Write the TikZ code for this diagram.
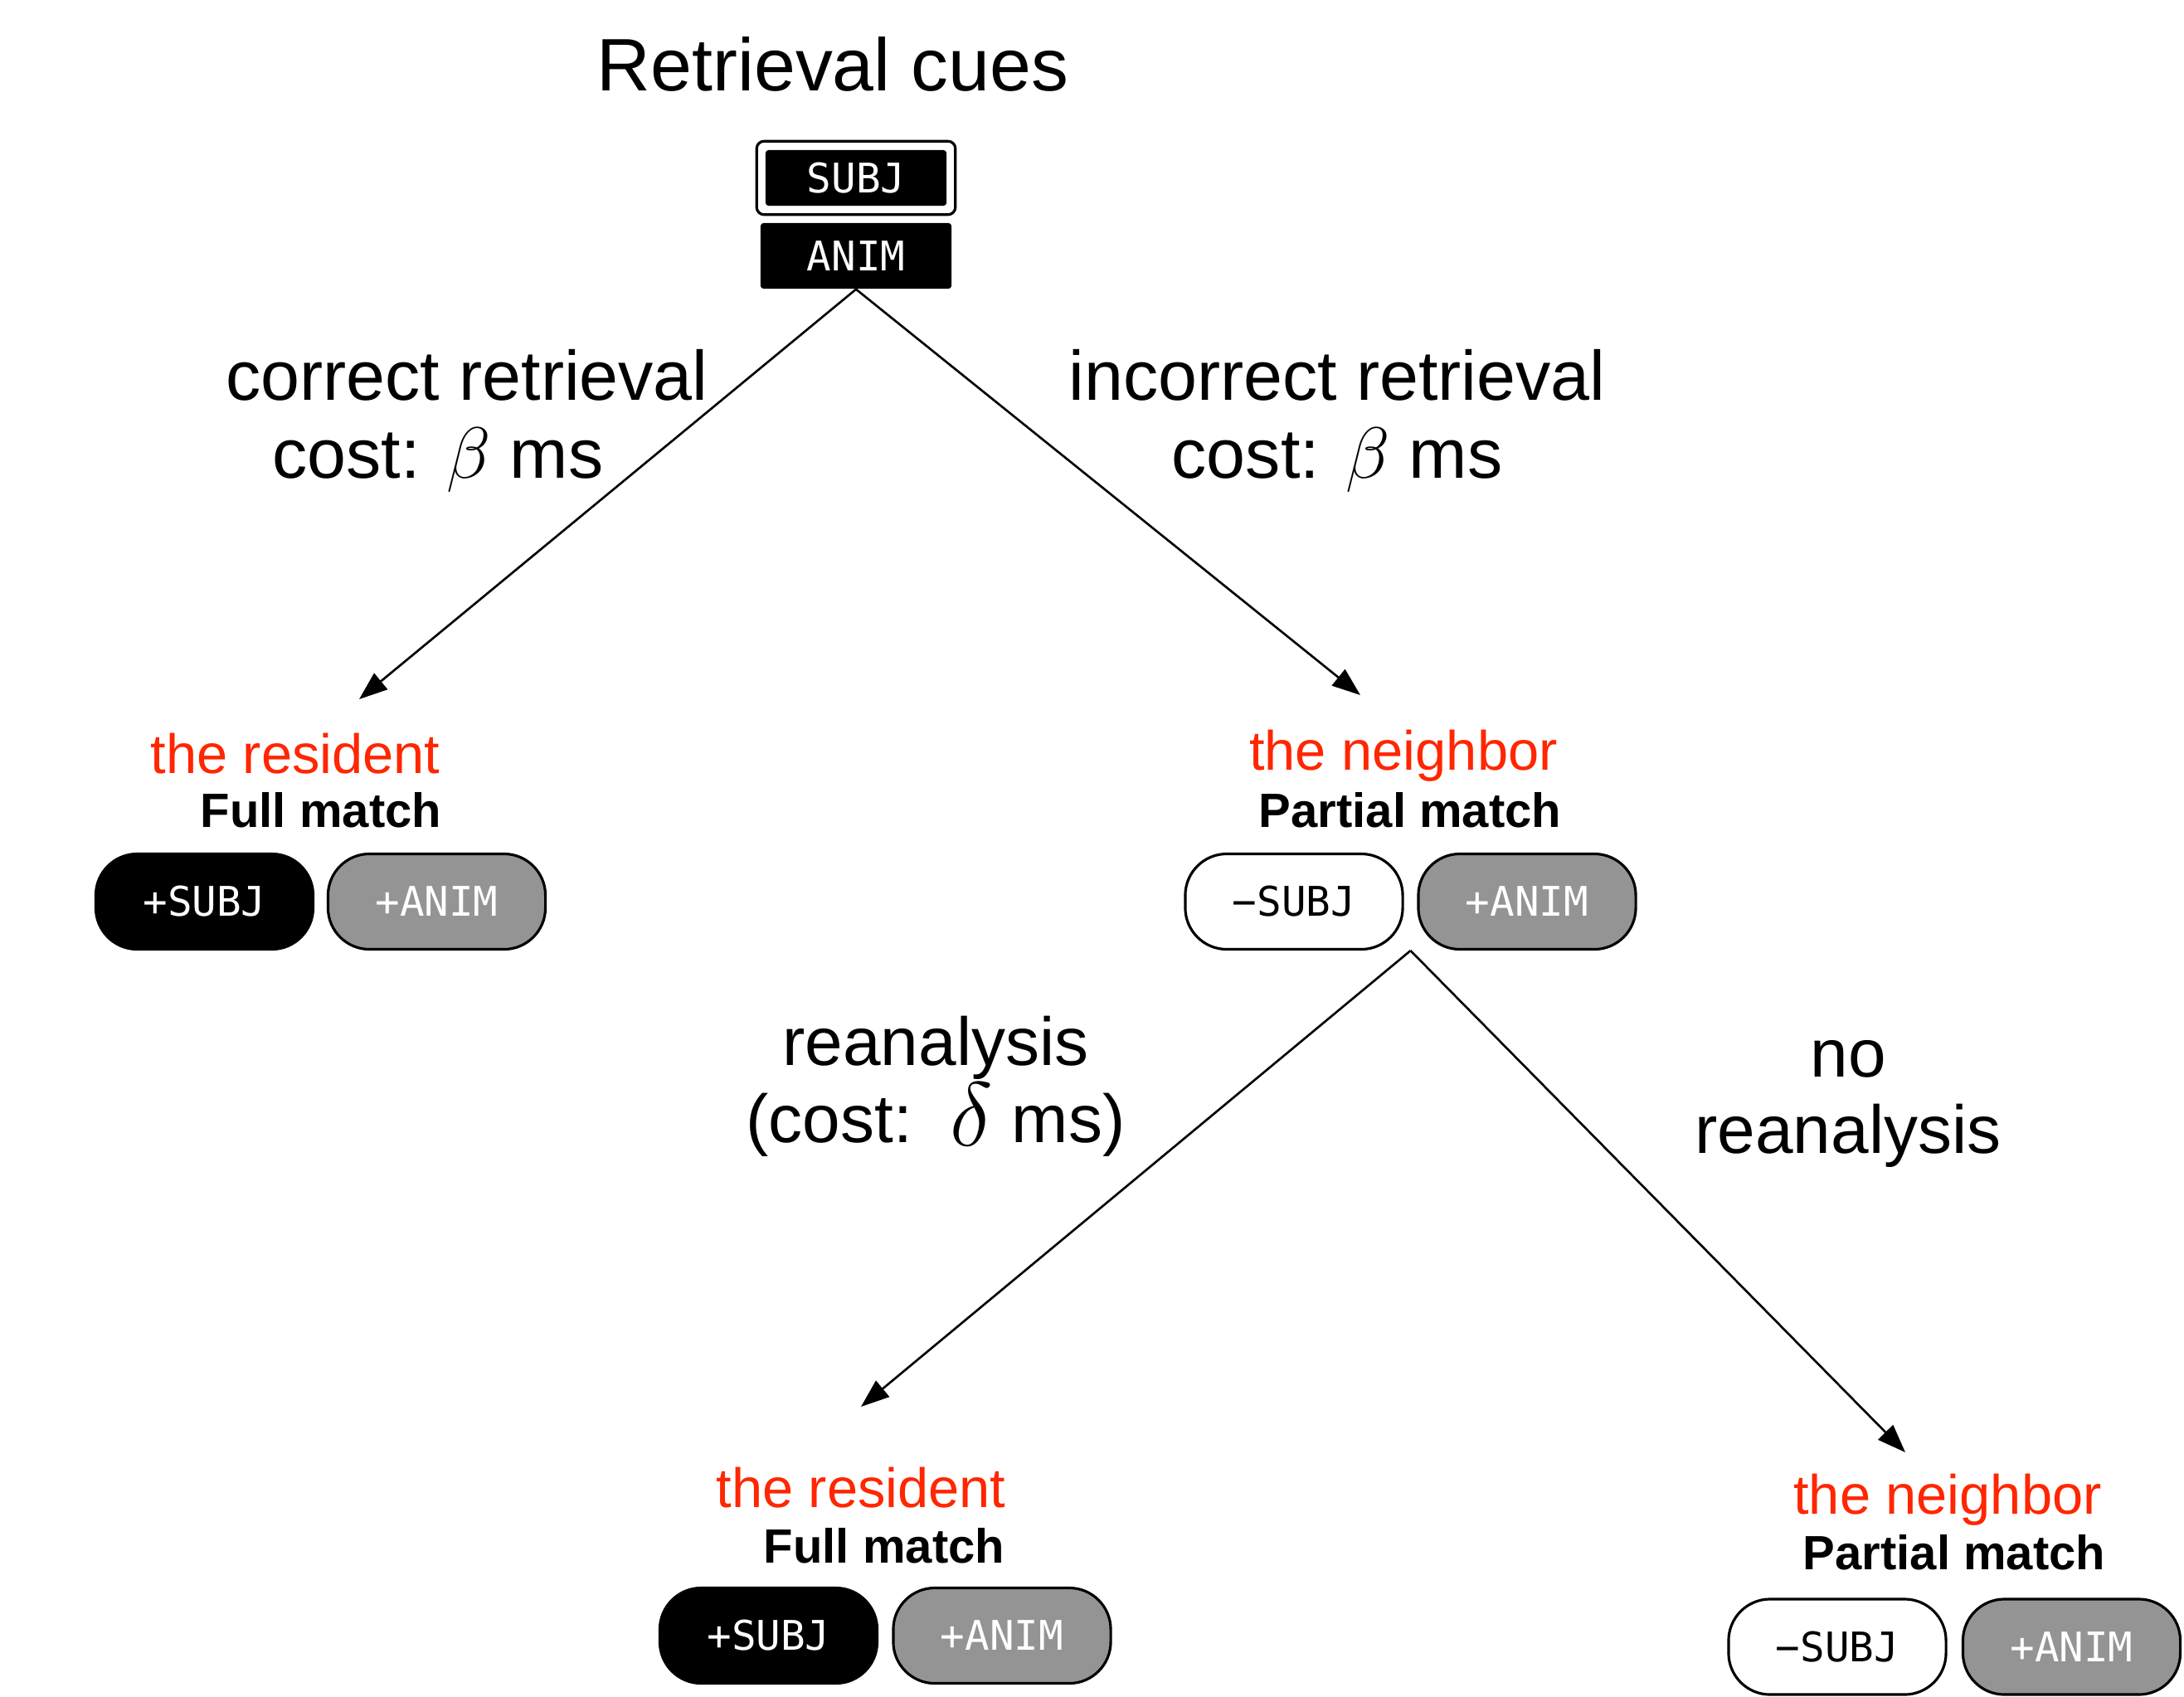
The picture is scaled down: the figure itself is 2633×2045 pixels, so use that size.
\documentclass[tikz,border=0pt]{standalone}
\usepackage{fontspec}
\usepackage{graphicx}
\setmainfont{Liberation Sans}
\newfontfamily\monofont{DejaVu Sans Mono}
\usetikzlibrary{arrows.meta,calc}
\definecolor{myred}{RGB}{255,38,0}
\definecolor{pillgray}{RGB}{148,148,148}
\begin{document}
\begin{tikzpicture}[x=0.01cm,y=-0.01cm,
  big/.style={font=\fontsize{24}{28}\selectfont, anchor=base, inner sep=0},
  bigb/.style={font=\fontsize{23.3}{28}\selectfont, anchor=base, inner sep=0},
  title/.style={font=\fontsize{25.5}{30}\selectfont, anchor=base, inner sep=0},
  wordname/.style={text=myred, font=\fontsize{19}{22}\selectfont, anchor=base, inner sep=0},
  matchlabel/.style={font=\bfseries\fontsize{16.5}{20}\selectfont, anchor=base, inner sep=0},
  pill/.style={rounded corners=0.5cm, minimum width=2.62cm, minimum height=1.15cm, draw=black, line width=0.9pt, font=\monofont\fontsize{14}{16}\selectfont, inner sep=0},
  blackpill/.style={pill, fill=black, text=white},
  graypill/.style={pill, fill=pillgray, text=white},
  whitepill/.style={pill, fill=white, text=black},
  cuebox/.style={fill=black, text=white, font=\monofont\fontsize{14}{16}\selectfont, inner sep=0, rounded corners=1pt},
  conn/.style={line width=0.75pt, -{Triangle[length=0.34cm,width=0.25cm]}}
]
\useasboundingbox (0,0) rectangle (2633,2045);

% title and cues
\node[title] (title) at (1004,109) {Retrieval cues};
\node[cuebox, minimum width=2.18cm, minimum height=0.67cm] (subj) at (1032,214.5) {SUBJ};
\draw[line width=0.9pt, rounded corners=2.5pt] ($(subj.north west)+(-10,-10)$) rectangle ($(subj.south east)+(10,10)$);
\node[cuebox, minimum width=2.30cm, minimum height=0.79cm] (anim) at (1032,308.5) {ANIM};

% first-level labels
\node[big] (corr1) at (563,482) {correct retrieval};
\node[big] (corr2) at (528,576) {cost: $\beta$ ms};
\node[big] (inc1) at (1612,482) {incorrect retrieval};
\node[big] (inc2) at (1612,576) {cost: $\beta$ ms};

% left outcome
\node[wordname] (res1) at (356,932) {the resident};
\node[matchlabel] (full1) at (387,997) {Full match};
\node[blackpill] (p1a) at (246.5,1087) {+SUBJ};
\node[graypill] (p1b) at (526.5,1087) {+ANIM};

% right outcome
\node[wordname] (nb1) at (1692,928) {the neighbor};
\node[matchlabel] (part1) at (1700,997) {Partial match};
\node[whitepill] (p2a) at (1560,1087) {−SUBJ};
\node[graypill] (p2b) at (1841,1087) {+ANIM};

% second-level labels
\node[bigb] (rea1) at (1128,1284) {reanalysis};
\node[bigb] (rea2) at (1128,1377) {(cost:\ \ \raisebox{-0.05em}{\scalebox{1.25}{$\delta$}} ms)};
\node[bigb] (no1) at (2228,1298) {no};
\node[bigb] (no2) at (2228,1390) {reanalysis};

% bottom-left outcome
\node[wordname] (res2) at (1038,1817) {the resident};
\node[matchlabel] (full2) at (1066,1884) {Full match};
\node[blackpill] (p3a) at (926.5,1972) {+SUBJ};
\node[graypill] (p3b) at (1208,1972) {+ANIM};

% bottom-right outcome
\node[wordname] (nb2) at (2348,1825) {the neighbor};
\node[matchlabel] (part2) at (2356,1892) {Partial match};
\node[whitepill] (p4a) at (2215,1985.5) {−SUBJ};
\node[graypill] (p4b) at (2497.5,1985.5) {+ANIM};

% connectors
\coordinate (tipL) at (433,843);
\coordinate (tipR) at (1640,838);
\coordinate (split) at ($(p2a.south east)!0.5!(p2b.south west)$);
\coordinate (tipRL) at (1038,1696);
\coordinate (tipRR) at (2297,1751);
\draw[conn] (anim.south) -- (tipL);
\draw[conn] (anim.south) -- (tipR);
\draw[conn] (split) -- (tipRL);
\draw[conn] (split) -- (tipRR);
\end{tikzpicture}
\end{document}
